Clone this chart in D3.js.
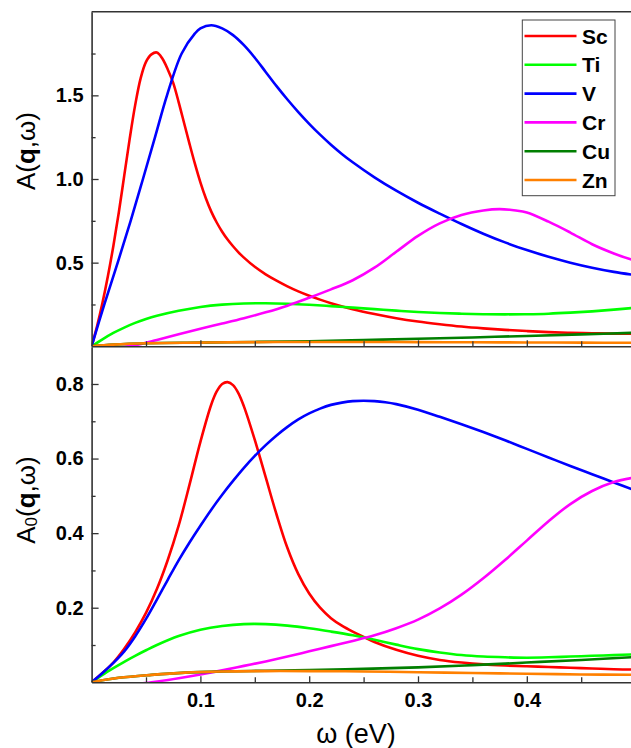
<!DOCTYPE html>
<html><head><meta charset="utf-8">
<script src="https://cdn.jsdelivr.net/npm/d3@7"></script>
<style>
html,body{margin:0;padding:0;background:#fff;}
svg{display:block;font-family:"Liberation Sans",Arial,sans-serif;}
</style></head>
<body>
<svg id="chart" width="631" height="748"></svg>
<script>
// ---------- data (ω in eV, value) ----------
const seriesNames = ["Sc","Ti","V","Cr","Cu","Zn"];
const seriesColors = ["#ff0000","#00ff00","#0000ff","#ff00ff","#007f00","#ff8000"];

// upper panel: A(q,ω)
const topSc = [[0,0],[0.005,0.12],[0.01,0.26],[0.015,0.42],[0.02,0.6],[0.025,0.8],[0.03,1.02],[0.035,1.24],[0.04,1.44],[0.045,1.6],[0.05,1.7],[0.055,1.745],[0.06,1.756],[0.065,1.72],[0.07,1.655],[0.075,1.575],[0.08,1.46],[0.085,1.335],[0.09,1.21],[0.095,1.09],[0.1,0.98],[0.105,0.885],[0.11,0.805],[0.115,0.74],[0.12,0.685],[0.125,0.638],[0.13,0.598],[0.135,0.562],[0.14,0.53],[0.15,0.475],[0.16,0.43],[0.17,0.392],[0.18,0.358],[0.19,0.328],[0.2,0.302],[0.21,0.279],[0.22,0.258],[0.24,0.222],[0.26,0.193],[0.28,0.168],[0.3,0.148],[0.32,0.132],[0.34,0.118],[0.36,0.107],[0.38,0.098],[0.4,0.091],[0.42,0.085],[0.44,0.081],[0.46,0.078],[0.48,0.076],[0.5,0.075]];
const topTi = [[0,0],[0.01,0.042],[0.02,0.08],[0.03,0.112],[0.04,0.14],[0.05,0.163],[0.06,0.182],[0.08,0.212],[0.1,0.235],[0.12,0.249],[0.14,0.256],[0.16,0.257],[0.18,0.254],[0.2,0.248],[0.22,0.24],[0.24,0.231],[0.26,0.222],[0.28,0.213],[0.3,0.205],[0.32,0.199],[0.34,0.195],[0.36,0.192],[0.38,0.191],[0.4,0.192],[0.42,0.195],[0.44,0.201],[0.46,0.209],[0.48,0.219],[0.5,0.231]];
const topV = [[0,0],[0.0117,0.25],[0.024,0.5],[0.0359,0.75],[0.0472,1.0],[0.0583,1.25],[0.0693,1.5],[0.0828,1.75],[0.095,1.87],[0.1,1.9],[0.11,1.919],[0.12,1.9],[0.13,1.86],[0.14,1.8],[0.15,1.725],[0.16,1.64],[0.17,1.555],[0.18,1.475],[0.19,1.4],[0.2,1.33],[0.21,1.265],[0.22,1.205],[0.23,1.15],[0.24,1.1],[0.26,1.01],[0.28,0.93],[0.3,0.858],[0.32,0.793],[0.34,0.731],[0.36,0.673],[0.38,0.621],[0.4,0.575],[0.42,0.535],[0.44,0.5],[0.46,0.47],[0.48,0.445],[0.5,0.425]];
const topCr = [[0,-0.02],[0.03,-0.003],[0.04,0.006],[0.06,0.038],[0.08,0.072],[0.1,0.105],[0.12,0.136],[0.14,0.168],[0.16,0.203],[0.18,0.243],[0.2,0.29],[0.22,0.34],[0.24,0.395],[0.26,0.47],[0.28,0.565],[0.3,0.66],[0.32,0.735],[0.34,0.785],[0.36,0.812],[0.375,0.82],[0.39,0.812],[0.4,0.8],[0.42,0.745],[0.44,0.68],[0.46,0.61],[0.48,0.555],[0.5,0.51]];
const topCu = [[0,0],[0.02,0.01],[0.05,0.018],[0.1,0.022],[0.15,0.026],[0.2,0.03],[0.25,0.037],[0.3,0.045],[0.35,0.053],[0.4,0.062],[0.45,0.071],[0.5,0.081]];
const topZn = [[0,0],[0.02,0.01],[0.05,0.018],[0.1,0.022],[0.15,0.025],[0.2,0.026],[0.25,0.026],[0.3,0.025],[0.35,0.024],[0.4,0.023],[0.45,0.022],[0.5,0.021]];

// lower panel: A0(q,ω)
const botSc = [[0,0],[0.01,0.025],[0.02,0.053],[0.03,0.09],[0.04,0.134],[0.05,0.186],[0.06,0.25],[0.07,0.328],[0.08,0.42],[0.09,0.53],[0.1,0.645],[0.11,0.745],[0.115,0.78],[0.12,0.8],[0.125,0.805],[0.13,0.797],[0.135,0.775],[0.14,0.74],[0.15,0.65],[0.16,0.55],[0.17,0.45],[0.18,0.36],[0.19,0.29],[0.2,0.238],[0.21,0.2],[0.22,0.172],[0.23,0.152],[0.24,0.136],[0.25,0.122],[0.26,0.108],[0.28,0.087],[0.3,0.071],[0.32,0.06],[0.34,0.053],[0.36,0.048],[0.38,0.045],[0.4,0.043],[0.42,0.041],[0.44,0.039],[0.46,0.037],[0.48,0.035],[0.5,0.034]];
const botTi = [[0,0],[0.01,0.02],[0.02,0.038],[0.03,0.055],[0.04,0.071],[0.05,0.086],[0.06,0.1],[0.08,0.124],[0.1,0.141],[0.12,0.151],[0.14,0.156],[0.16,0.156],[0.18,0.152],[0.2,0.145],[0.22,0.136],[0.24,0.126],[0.26,0.114],[0.28,0.101],[0.3,0.089],[0.32,0.08],[0.34,0.073],[0.36,0.069],[0.38,0.067],[0.4,0.066],[0.42,0.067],[0.44,0.069],[0.46,0.071],[0.48,0.073],[0.5,0.075]];
const botV = [[0,0],[0.01,0.025],[0.02,0.052],[0.03,0.083],[0.04,0.123],[0.05,0.17],[0.06,0.222],[0.07,0.275],[0.08,0.327],[0.09,0.375],[0.1,0.42],[0.11,0.463],[0.12,0.503],[0.13,0.54],[0.14,0.575],[0.15,0.607],[0.16,0.636],[0.17,0.662],[0.18,0.685],[0.19,0.705],[0.2,0.721],[0.21,0.734],[0.22,0.744],[0.23,0.75],[0.24,0.754],[0.25,0.755],[0.26,0.754],[0.27,0.751],[0.28,0.746],[0.3,0.731],[0.32,0.712],[0.34,0.692],[0.36,0.671],[0.38,0.649],[0.4,0.626],[0.42,0.603],[0.44,0.58],[0.46,0.558],[0.48,0.536],[0.5,0.514]];
const botCr = [[0,-0.03],[0.04,-0.006],[0.055,0],[0.08,0.011],[0.1,0.021],[0.12,0.032],[0.14,0.044],[0.16,0.056],[0.18,0.069],[0.2,0.083],[0.22,0.097],[0.24,0.111],[0.26,0.126],[0.28,0.145],[0.3,0.168],[0.32,0.198],[0.34,0.235],[0.36,0.279],[0.38,0.328],[0.4,0.38],[0.42,0.432],[0.44,0.478],[0.46,0.513],[0.48,0.537],[0.5,0.55]];
const botCu = [[0,0],[0.025,0.012],[0.055,0.02],[0.086,0.026],[0.12,0.029],[0.16,0.031],[0.2,0.033],[0.25,0.036],[0.3,0.04],[0.35,0.046],[0.4,0.053],[0.45,0.06],[0.5,0.068]];
const botZn = [[0,0],[0.025,0.012],[0.055,0.02],[0.086,0.026],[0.12,0.029],[0.16,0.03],[0.2,0.03],[0.25,0.029],[0.3,0.027],[0.35,0.025],[0.4,0.023],[0.45,0.021],[0.5,0.02]];

const xMajor = [0.1,0.2,0.3,0.4];
const xMinor = [0.05,0.15,0.25,0.35,0.45];
const yTopMajor = [0.5,1.0,1.5];
const yTopMinor = [0.25,0.75,1.25,1.75];
const yBotMajor = [0.2,0.4,0.6,0.8];
const yBotMinor = [0.1,0.3,0.5,0.7];

// ---------- layout ----------
const svg = d3.select("#chart");
const x = d3.scaleLinear().domain([0,0.5]).range([91.6,635.6]);
const yTop = d3.scaleLinear().domain([0,2]).range([346.3,11.7]);
const yBot = d3.scaleLinear().domain([0,0.9]).range([682.3,346.7]);
const axisColor = "#333";

const defs = svg.append("defs");
defs.append("clipPath").attr("id","clipTop").append("rect")
  .attr("x",x(0)).attr("y",yTop(2)).attr("width",x(0.5)-x(0)).attr("height",yTop(0)-yTop(2));
defs.append("clipPath").attr("id","clipBot").append("rect")
  .attr("x",x(0)).attr("y",yBot(0.9)).attr("width",x(0.5)-x(0)).attr("height",yBot(0)-yBot(0.9));

function drawPanel(y, data, clipId){
  const line = d3.line().x(d=>x(d[0])).y(d=>y(d[1])).curve(d3.curveCatmullRom.alpha(0.5));
  const g = svg.append("g").attr("clip-path",`url(#${clipId})`);
  data.forEach((s,i)=>{
    g.append("path").datum(s).attr("d",line)
      .attr("fill","none").attr("stroke",seriesColors[i]).attr("stroke-width",2.6)
      .attr("stroke-linejoin","round");
  });
}
drawPanel(yTop,[topSc,topTi,topV,topCr,topCu,topZn],"clipTop");
drawPanel(yBot,[botSc,botTi,botV,botCr,botCu,botZn],"clipBot");

function styleAxis(g){
  g.selectAll("path.domain").attr("stroke",axisColor).attr("stroke-width",1.6);
  g.selectAll(".tick line").attr("stroke",axisColor).attr("stroke-width",1.3);
  g.selectAll(".tick text").attr("fill","#000").attr("font-size",20).attr("font-weight","bold")
    .attr("font-family","'Liberation Sans',Arial,sans-serif");
}

// top panel frame line
svg.append("line").attr("x1",x(0)).attr("x2",x(0.5)).attr("y1",yTop(2)).attr("y2",yTop(2))
  .attr("stroke",axisColor).attr("stroke-width",1.6);

// top panel x axis (shared line)
svg.append("g").attr("transform",`translate(0,${yTop(0)})`)
  .call(d3.axisBottom(x).tickValues(xMajor).tickSizeInner(-6).tickSizeOuter(0).tickFormat(""))
  .call(styleAxis);
svg.append("g").attr("transform",`translate(0,${yTop(0)})`)
  .call(d3.axisBottom(x).tickValues(xMinor).tickSizeInner(-5).tickSizeOuter(0).tickFormat(""))
  .call(g=>g.select(".domain").remove()).call(styleAxis);

// bottom x axis
svg.append("g").attr("transform",`translate(0,${yBot(0)})`)
  .call(d3.axisBottom(x).tickValues(xMajor).tickSizeInner(-6).tickSizeOuter(0).tickPadding(10.5).tickFormat(d3.format(".1f")))
  .call(styleAxis);
svg.append("g").attr("transform",`translate(0,${yBot(0)})`)
  .call(d3.axisBottom(x).tickValues(xMinor).tickSizeInner(-5).tickSizeOuter(0).tickFormat(""))
  .call(g=>g.select(".domain").remove()).call(styleAxis);

// y axes
svg.append("g").attr("transform",`translate(${x(0)},0)`)
  .call(d3.axisLeft(yTop).tickValues(yTopMajor).tickSizeInner(-7).tickSizeOuter(0).tickPadding(8).tickFormat(d3.format(".1f")))
  .call(styleAxis);
svg.append("g").attr("transform",`translate(${x(0)},0)`)
  .call(d3.axisLeft(yTop).tickValues(yTopMinor).tickSizeInner(-4).tickSizeOuter(0).tickFormat(""))
  .call(g=>g.select(".domain").remove()).call(styleAxis);
svg.append("g").attr("transform",`translate(${x(0)},0)`)
  .call(d3.axisLeft(yBot).tickValues(yBotMajor).tickSizeInner(-7).tickSizeOuter(0).tickPadding(8).tickFormat(d3.format(".1f")))
  .call(styleAxis);
svg.append("g").attr("transform",`translate(${x(0)},0)`)
  .call(d3.axisLeft(yBot).tickValues(yBotMinor).tickSizeInner(-4).tickSizeOuter(0).tickFormat(""))
  .call(g=>g.select(".domain").remove()).call(styleAxis);

// axis titles
const tTop = svg.append("text").attr("transform","translate(35,151) rotate(-90)")
  .attr("text-anchor","middle").attr("font-size",26).attr("fill","#000");
tTop.append("tspan").text("A(");
tTop.append("tspan").attr("font-weight","bold").text("q");
tTop.append("tspan").text(",ω)");

const tBot = svg.append("text").attr("transform","translate(35,500) rotate(-90)")
  .attr("text-anchor","middle").attr("font-size",26).attr("fill","#000");
tBot.append("tspan").text("A");
tBot.append("tspan").attr("font-size",17).attr("dy",2).text("0");
tBot.append("tspan").attr("dy",-2).text("(");
tBot.append("tspan").attr("font-weight","bold").text("q");
tBot.append("tspan").text(",ω)");

svg.append("text").attr("x",356).attr("y",743).attr("text-anchor","middle")
  .attr("font-size",27).attr("fill","#000").text("ω (eV)");

// legend
const leg = svg.append("g");
leg.append("rect").attr("x",522.3).attr("y",20).attr("width",92.7).attr("height",175.7)
  .attr("fill","#fff").attr("stroke","#444").attr("stroke-width",1);
const rowY = d3.scalePoint().domain(seriesNames).range([36,180]);
seriesNames.forEach((n,i)=>{
  leg.append("line").attr("x1",524.5).attr("x2",576.5).attr("y1",rowY(n)).attr("y2",rowY(n))
    .attr("stroke",seriesColors[i]).attr("stroke-width",2.6);
  leg.append("text").attr("x",582).attr("y",rowY(n)).attr("dy","0.36em")
    .attr("font-size",21).attr("font-weight","bold").attr("fill","#000").text(n);
});
</script>
</body></html>
